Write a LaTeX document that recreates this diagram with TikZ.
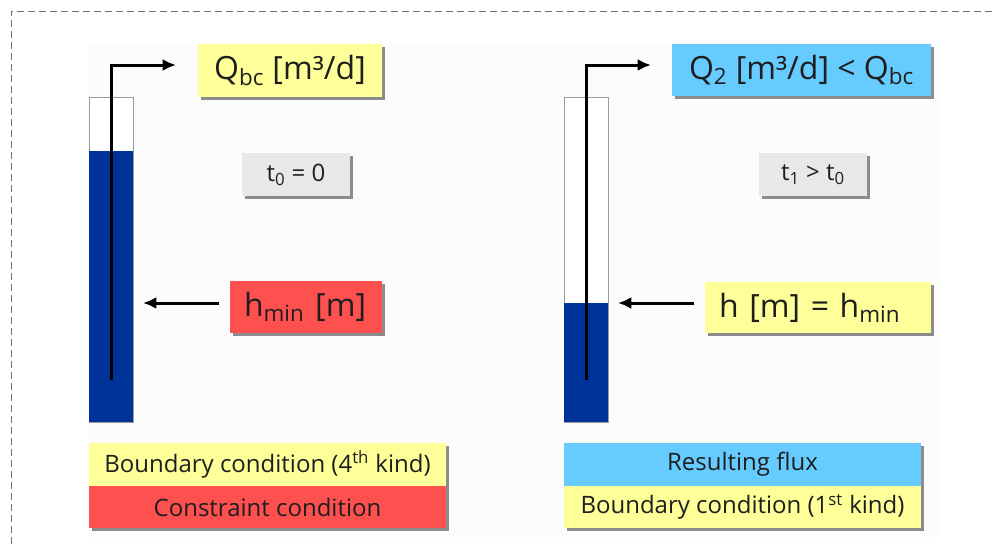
\documentclass[tikz,border=0pt]{standalone}
\usepackage{fontspec}
\setmainfont{Open Sans}
\usetikzlibrary{arrows.meta,shadows,calc}
\definecolor{cyell}{HTML}{FFFF99}
\definecolor{cblue}{HTML}{66CCFF}
\definecolor{cred}{HTML}{FF5050}
\definecolor{cgray}{HTML}{E8E8E8}
\definecolor{cshadow}{HTML}{8C8C8C}
\definecolor{cwater}{HTML}{003399}
\definecolor{ctube}{HTML}{9A9A9A}
\definecolor{cpanel}{HTML}{FCFCFC}
\definecolor{cborder}{HTML}{707070}
\definecolor{ctext}{HTML}{1E1E1E}
\begin{document}
\begin{tikzpicture}[x=0.75pt,y=-0.75pt,
  box/.style={draw=none, inner sep=0pt, outer sep=0pt, text=ctext,
    general shadow={fill=cshadow, shadow xshift=2.25pt, shadow yshift=-2.25pt}},
  bigtxt/.style={font=\fontsize{24}{28}\selectfont},
  smalltxt/.style={font=\fontsize{18}{21}\selectfont},
  lefttxt/.style={inner xsep=10.5pt, align=left},
  tube/.style={draw=ctube, line width=0.75pt, fill=white, inner sep=0pt, outer sep=0pt, minimum width=33pt, minimum height=243.75pt},
  water/.style={fill=cwater, inner sep=0pt, outer sep=0pt, minimum width=33pt},
  pipe/.style={line width=2.25pt, -{Latex[length=10pt,width=9pt]}},
  harrow/.style={line width=2.25pt, -{Latex[length=10pt,width=9pt]}}]
\useasboundingbox (0,0) rectangle (992,544);
\fill[cpanel] (88,43) rectangle (940,537);
\draw[cborder, line width=0.75pt, dash pattern=on 5.25pt off 3pt] (11,544) -- (11,11) -- (992,11);

% left tube
\node[tube] (tubeL) at (111,259.5) {};
\node[water, minimum height=203.25pt] (waterL) at (111,286.5) {};
\coordinate (pL0) at (111,380);
\coordinate (pL1) at (176,65);
\draw[pipe] (pL0) |- (pL1);

% right tube
\node[tube] (tubeR) at (586,259.5) {};
\node[water, minimum height=89.25pt] (waterR) at (586,362.5) {};
\coordinate (pR0) at (586,380);
\coordinate (pR1) at (651,65);
\draw[pipe] (pR0) |- (pR1);

% left labels
\node[box, bigtxt, fill=cyell, minimum width=138pt, minimum height=39.75pt] (QL) at (290,70.5) {Q\textsubscript{bc} [m³/d]};
\node[box, smalltxt, fill=cgray, minimum width=81pt, minimum height=32.25pt] (tL) at (296,174.5) {t\textsubscript{0} = 0};
\node[box, bigtxt, lefttxt, fill=cred, text width=93pt, minimum height=39pt] (hL) at (306,307) {h\textsubscript{min} [m]};
\draw[harrow] ($(hL.west)+(-11,-4)$) -- ($(tubeL.east |- hL.west)+(10,-4)$);

% right labels
\node[box, bigtxt, fill=cblue, minimum width=194.25pt, minimum height=39pt] (QR) at (801.5,70) {Q\textsubscript{2} [m³/d] < Q\textsubscript{bc}};
\node[box, smalltxt, fill=cgray, minimum width=81pt, minimum height=32.25pt] (tR) at (813,174.5) {t\textsubscript{1} > t\textsubscript{0}};
\node[box, bigtxt, lefttxt, fill=cyell, text width=148.5pt, minimum height=38.25pt] (hR) at (818,307.5) {h [m] = h\textsubscript{min}};
\draw[harrow] ($(hR.west)+(-11,-4.5)$) -- ($(tubeR.east |- hR.west)+(10,-4.5)$);

% bottom legends
\node[box, smalltxt, fill=cyell, minimum width=267.75pt, minimum height=32.25pt] (bL1) at (267.5,464.5) {Boundary condition (4\textsuperscript{th} kind)};
\node[box, smalltxt, fill=cred, minimum width=267.75pt, minimum height=31.5pt] (bL2) at (267.5,507) {Constraint condition};
\node[box, smalltxt, fill=cblue, minimum width=267.75pt, minimum height=32.25pt] (bR1) at (742.5,464.5) {Resulting flux};
\node[box, smalltxt, fill=cyell, minimum width=267.75pt, minimum height=31.5pt] (bR2) at (742.5,507) {Boundary condition (1\textsuperscript{st} kind)};
\end{tikzpicture}
\end{document}
